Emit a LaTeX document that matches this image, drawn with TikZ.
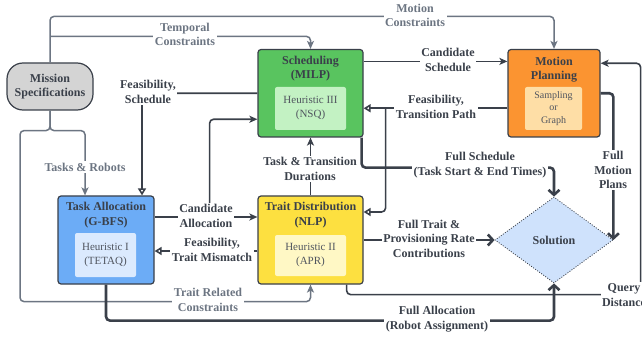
\documentclass[tikz,border=0pt]{standalone}
\usepackage{fontspec}
\setmainfont{Liberation Serif}
\usetikzlibrary{arrows.meta,shapes.geometric,calc}
\definecolor{dk}{RGB}{58,64,74}
\definecolor{gy}{RGB}{108,117,130}
\definecolor{htx}{RGB}{80,85,95}
\definecolor{msfill}{RGB}{212,212,212}
\definecolor{tafill}{RGB}{108,172,246}
\definecolor{tain}{RGB}{219,234,254}
\definecolor{schfill}{RGB}{89,196,95}
\definecolor{schin}{RGB}{195,242,195}
\definecolor{tdfill}{RGB}{253,224,64}
\definecolor{tdin}{RGB}{255,248,197}
\definecolor{mpfill}{RGB}{251,148,49}
\definecolor{mpin}{RGB}{254,222,166}
\definecolor{solfill}{RGB}{207,226,252}
\begin{document}
\begin{tikzpicture}[x=1pt,y=-1pt,
  bfont/.style={font=\fontsize{12}{14.5}\selectfont\bfseries},
  box/.style={draw=dk, line width=1.2pt, rounded corners=3pt, inner sep=0pt},
  title/.style={bfont, align=center, text=dk, inner sep=0pt},
  inbox/.style={rounded corners=2pt, inner sep=0pt, align=center, text=htx, font=\fontsize{11}{14}\selectfont},
  lab/.style={bfont, fill=white, align=center, inner sep=1.5pt, text=dk},
  glab/.style={lab, text=gy},
  garr/.style={draw=gy, line width=1.5pt, rounded corners=4pt, -{Stealth[length=8pt,width=7pt,inset=2pt]}},
  arr/.style={draw=dk, line width=1.6pt, rounded corners=4pt, -{Stealth[length=8pt,width=7pt,inset=2pt]}},
  oarr/.style={draw=dk, line width=1.6pt, rounded corners=4pt, -{Triangle[length=7pt,width=8pt,fill=white]}},
  barr/.style={draw=dk, line width=2.6pt, rounded corners=4pt, -{Straight Barb[length=5pt,width=11pt]}}
]
\useasboundingbox (0,0) rectangle (642,339);

% boxes
\node[box, fill=msfill, rounded corners=16pt, minimum width=86pt, minimum height=47pt] (ms) at (50,86.5) {};
\node[title] (mst) at (50,86.5) {Mission\\Specifications};

\node[box, fill=tafill, minimum width=96pt, minimum height=88pt] (ta) at (106,240) {};
\node[title] (tat) at (106,215) {Task Allocation\\(G-BFS)};
\node[inbox, fill=tain, minimum width=61pt, minimum height=44pt] (tai) at (105.5,255) {Heuristic I\\(TETAQ)};

\node[box, fill=schfill, minimum width=105pt, minimum height=87.5pt] (sch) at (310.5,93.25) {};
\node[title] (scht) at (310.5,68.5) {Scheduling\\(MILP)};
\node[inbox, fill=schin, minimum width=71pt, minimum height=43pt] (schi) at (310.5,108.5) {Heuristic III\\(NSQ)};

\node[box, fill=tdfill, minimum width=105pt, minimum height=88pt] (td) at (310.5,240) {};
\node[title] (tdt) at (310.5,215) {Trait Distribution\\(NLP)};
\node[inbox, fill=tdin, minimum width=71pt, minimum height=41pt] (tdi) at (310.5,255.5) {Heuristic II\\(APR)};

\node[box, fill=mpfill, minimum width=92pt, minimum height=87.5pt] (mp) at (554,93.25) {};
\node[title] (mpt) at (554,69.5) {Motion\\Planning};
\node[inbox, fill=mpin, minimum width=57pt, minimum height=43pt, font=\fontsize{10}{12.5}\selectfont] (mpi) at (553.5,108.5) {Sampling\\or\\Graph};

\node[diamond, draw=dk, line width=0.8pt, dash pattern=on 1pt off 1.5pt, fill=solfill, minimum width=118pt, minimum height=86pt, inner sep=0pt, bfont, text=dk] (sol) at (554,240) {Solution};

% gray connectors
\draw[garr] (ms.north) -- ++(0,-46) -| (mp.north);
\draw[garr] ($(ms.north)+(0,-26)$) -| (sch.north);
\draw[garr] (ms.south) -- ++(0,20) -| ([xshift=-21pt]ta.north);
\draw[garr] (ms.south) -- ++(0,20) -| ++(-30,171) -| (td.south);

% dark connectors
\draw[oarr] (sch.west) -| ([xshift=36pt]ta.north);
\draw[arr] ([yshift=23pt]ta.east) -- ([yshift=23pt]td.west);
\coordinate (ca) at ($([yshift=23pt]ta.east)+(55,0)$);
\draw[arr] (ca) |- ([yshift=-26pt]sch.west);
\draw[oarr] ([yshift=-11pt]td.west) -- ([yshift=-11pt]ta.east);
\draw[arr] (td.north) -- (sch.south);
\draw[arr] ([yshift=-12.5pt]sch.north east) -- ([yshift=-12.5pt]mp.north west);
\draw[oarr] ([yshift=-15pt]mp.west) -- ([yshift=-15pt]sch.east);
\coordinate (fb) at ($([yshift=-15pt]sch.east)+(22,0)$);
\draw[oarr] (fb) |- ([yshift=28pt]td.east);
\draw[arr] ([xshift=-17pt]td.south east) -- ++(0,10) -| ([xshift=40pt,yshift=30pt]mp.east) -- ([yshift=30pt]mp.east);

% to solution
\draw[barr] ([xshift=-2pt]sch.south east) -- ++(0,30) -| (sol.north);
\draw[barr] (td.east) -- (sol.west);
\draw[barr] (ta.south) -- ++(0,36) -| (sol.south);
\draw[barr] (mp.east) -| (sol.east);

% labels
\node[glab] (lmc) at (415,15.5) {Motion\\Constraints};
\node[glab] (ltc) at (185,34.5) {Temporal\\Constraints};
\node[glab] (ltr) at (85,167) {Tasks \& Robots};
\node[glab] (ltrc) at (208,300) {Trait Related\\Constraints};
\node[lab] (lfs) at (148,92) {Feasibility,\\Schedule};
\node[lab] (lca) at (206,216) {Candidate\\Allocation};
\node[lab] (lftm) at (212,250) {Feasibility,\\Trait Mismatch};
\node[lab] (ltd) at (310,169) {Task \& Transition\\Durations};
\node[lab] (lcs) at (448,60) {Candidate\\Schedule};
\node[lab] (lftp) at (436,107) {Feasibility,\\Transition Path};
\node[lab] (lfsch) at (480,165) {Full Schedule\\(Task Start \& End Times)};
\node[lab] (lft) at (429,238.5) {Full Trait \&\\Provisioning Rate\\Contributions};
\node[lab] (lfa) at (437,319) {Full Allocation\\(Robot Assignment)};
\node[lab] (lfmp) at (613,170) {Full\\Motion\\Plans};
\node[lab] (lqd) at (624,295) {Query\\Distance};
\end{tikzpicture}
\end{document}
